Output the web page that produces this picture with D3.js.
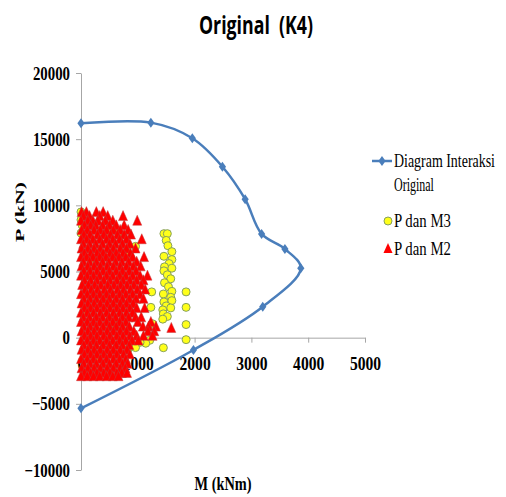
<!DOCTYPE html>
<html>
<head>
<meta charset="utf-8">
<script src="https://cdn.jsdelivr.net/npm/d3@7"></script>
<style>
body { margin: 0; background: #fff; }
</style>
</head>
<body>
<div id="chart"></div>
<script>
// interaction diagram (M, P)
var curveM = [0, 1230, 1960, 2490, 2890, 3180, 3590, 3870, 3200, 1980, 0];
var curveP = [16200, 16250, 15070, 12920, 10460, 7840, 6700, 5240, 2340, -930, -5340];

var xTicks = [0, 1000, 2000, 3000, 4000, 5000];
var yTicks = [-10000, -5000, 0, 5000, 10000, 15000, 20000];

// P dan M3 : [M, P]
var m3Points = [
    [200, 6000], [400, 3000], [600, 1000], [300, -1500], [700, 4500], [100, 2000], [500, 8000],
    [0, 9500], [40, 9250], [0, 8900], [20, 8500], [0, 7900], [660, 7940], [960, 6900], [820, 6500],
    [1245, 3460], [1230, 2290], [1260, 1050], [1210, -200], [1140, -420], [1040, -350], [960, -750],
    [830, -850], [1450, -760],
    [1460, 7860], [1520, 7860], [1500, 7350], [1530, 6950], [1600, 6500], [1460, 6150], [1600, 5900],
    [1550, 5600], [1470, 5350], [1600, 5250], [1460, 5050], [1520, 4750], [1580, 4450], [1470, 4150],
    [1540, 3850], [1600, 3500], [1450, 3300], [1580, 3050], [1460, 2700], [1600, 2800], [1500, 2400],
    [1440, 2100], [1580, 2250], [1450, 1800], [1520, 1600], [1440, 1400],
    [1850, 3460], [1850, 2290], [1850, 990], [1850, -150]
];

// P dan M2 : rows of [P, [M ...]]
var m2Rows = [
    [9450, [10, 95, 270, 390]],
    [9150, [40, 150, 330, 470, 740]],
    [8800, [0, 120, 210, 300, 430, 560, 990]],
    [8450, [60, 170, 260, 380, 500, 620, 760]],
    [8100, [10, 110, 230, 340, 450, 570, 690, 830]],
    [7750, [50, 160, 290, 400, 520, 640, 760, 880]],
    [7400, [0, 100, 210, 330, 450, 560, 680, 800, 1070]],
    [7050, [40, 150, 260, 380, 500, 610, 730, 860]],
    [6700, [10, 120, 230, 340, 460, 570, 690, 800, 960]],
    [6350, [60, 170, 280, 390, 510, 620, 740, 870]],
    [6050, [0, 100, 210, 330, 440, 560, 670, 790, 910, 1110]],
    [5700, [40, 150, 270, 380, 490, 610, 720, 840, 980]],
    [5350, [10, 120, 230, 340, 460, 570, 690, 800, 920, 1050]],
    [5000, [50, 160, 280, 390, 500, 620, 730, 850, 970]],
    [4650, [0, 110, 220, 330, 450, 560, 680, 790, 910, 1040, 1170]],
    [4300, [60, 170, 280, 400, 510, 630, 740, 860, 980, 1100]],
    [3950, [20, 130, 240, 350, 470, 580, 700, 810, 930, 1060]],
    [3600, [70, 180, 290, 410, 520, 640, 750, 870, 990, 1130]],
    [3250, [0, 110, 220, 330, 450, 560, 680, 790, 910, 1040]],
    [2900, [50, 160, 270, 390, 500, 620, 730, 850, 970, 1100]],
    [2550, [10, 120, 230, 340, 460, 570, 690, 800, 920]],
    [2200, [60, 170, 280, 400, 510, 630, 740, 860, 980, 1120]],
    [1850, [0, 110, 220, 340, 450, 570, 680, 800, 910]],
    [1500, [40, 150, 270, 380, 500, 610, 730, 840, 960, 1060]],
    [1150, [0, 110, 220, 330, 450, 560, 680, 790, 1000, 1230]],
    [800, [50, 160, 270, 390, 500, 620, 730, 850, 1090, 1190, 1320]],
    [700, [1590]],
    [450, [10, 120, 230, 340, 460, 570, 690, 800, 930, 1180, 1290]],
    [100, [60, 170, 280, 400, 510, 630, 740, 860, 980, 1100, 1260]],
    [-250, [0, 110, 220, 330, 450, 560, 680, 790, 900, 1010]],
    [-600, [50, 160, 270, 390, 500, 620, 730, 850]],
    [-950, [10, 120, 230, 340, 460, 570, 690, 810]],
    [-1300, [60, 170, 280, 400, 510, 630, 750, 860]],
    [-1650, [0, 110, 220, 340, 450, 570, 680, 790]],
    [-2000, [50, 160, 270, 390, 500, 620, 730, 820]],
    [-2350, [10, 120, 230, 340, 460, 570, 690, 780]],
    [-2700, [60, 170, 280, 400, 510, 630, 720, 810]],
    [-2950, [0, 110, 220, 330, 450, 560, 660]]
];

var serif = "'Liberation Serif', 'Times New Roman', serif";
var lineColor = "#4a7ebb";

var svg = d3.select("#chart")
            .append("svg")
            .attr("width", 506)
            .attr("height", 497);

var x = d3.scaleLinear().domain([0, 5000]).range([81, 365]);
var y = d3.scaleLinear().domain([-10000, 20000]).range([470, 73]);

// squeeze text horizontally like the picture
function squeeze(sel, k) {
    sel.each(function() {
        var w = this.getComputedTextLength();
        d3.select(this).attr("textLength", w * k).attr("lengthAdjust", "spacingAndGlyphs");
    });
}

// title
svg.append("text")
    .attr("x", 256)
    .attr("y", 34)
    .attr("text-anchor", "middle")
    .style("font-family", "'Open Sans', sans-serif")
    .style("font-weight", "bold")
    .style("font-size", "25px")
    .style("white-space", "pre")
    .attr("textLength", 114)
    .attr("lengthAdjust", "spacingAndGlyphs")
    .text("Original  (K4)");

// Y axis
var yAxis = svg.append("g")
    .attr("transform", "translate(81,0)")
    .call(d3.axisLeft(y).tickValues(yTicks).tickFormat(d3.format("d"))
        .tickSize(5).tickSizeOuter(0).tickPadding(6));
yAxis.select(".domain").attr("stroke", "#a6a6a6");
yAxis.selectAll(".tick line").attr("stroke", "#a6a6a6");
yAxis.selectAll("text")
    .style("font-family", serif)
    .style("font-weight", "bold")
    .style("font-size", "19px")
    .attr("fill", "#000")
    .call(squeeze, 0.78);

// X axis on P = 0
var xAxis = svg.append("g")
    .attr("transform", "translate(0," + y(0) + ")")
    .call(d3.axisBottom(x).tickValues(xTicks).tickFormat(d3.format("d"))
        .tickSize(5).tickSizeOuter(0).tickPadding(14));
xAxis.select(".domain").attr("stroke", "#a6a6a6");
xAxis.selectAll(".tick line").attr("stroke", "#a6a6a6");
xAxis.selectAll("text")
    .style("font-family", serif)
    .style("font-weight", "bold")
    .style("font-size", "19px")
    .attr("fill", "#000")
    .call(squeeze, 0.82);

// axis titles
svg.append("text")
    .attr("x", 223)
    .attr("y", 490)
    .attr("text-anchor", "middle")
    .style("font-family", serif)
    .style("font-weight", "bold")
    .style("font-size", "19px")
    .attr("textLength", 57)
    .attr("lengthAdjust", "spacingAndGlyphs")
    .text("M (kNm)");

svg.append("text")
    .attr("transform", "translate(24,212) rotate(-90)")
    .attr("text-anchor", "middle")
    .style("font-family", serif)
    .style("font-weight", "bold")
    .style("font-size", "13px")
    .attr("textLength", 60)
    .attr("lengthAdjust", "spacingAndGlyphs")
    .text("P (kN)");

// interaction curve
var curveData = curveM.map(function(m, i) { return {m: m, p: curveP[i]}; });

var line = d3.line()
    .x(function(d) { return x(d.m); })
    .y(function(d) { return y(d.p); })
    .curve(d3.curveCatmullRom.alpha(0.5));

svg.append("path")
    .datum(curveData)
    .attr("d", line)
    .attr("fill", "none")
    .attr("stroke", lineColor)
    .attr("stroke-width", 2.5);

var diamond = "M0,-5L3.6,0L0,5L-3.6,0Z";
var triangle = "M0,-6L4.5,4L-4.5,4Z";

svg.append("g").selectAll("path")
    .data(curveData)
    .enter()
    .append("path")
    .attr("d", diamond)
    .attr("transform", function(d) { return "translate(" + x(d.m) + "," + y(d.p) + ")"; })
    .attr("fill", lineColor);

// P dan M3
svg.append("g").selectAll("circle")
    .data(m3Points)
    .enter()
    .append("circle")
    .attr("cx", function(d) { return x(d[0]); })
    .attr("cy", function(d) { return y(d[1]); })
    .attr("r", 4)
    .attr("fill", "#ffff1a")
    .attr("stroke", "#86a05e")
    .attr("stroke-width", 1);

// P dan M2
var m2Points = [];
m2Rows.forEach(function(r) {
    r[1].forEach(function(m) { m2Points.push({m: m, p: r[0]}); });
});

svg.append("g").selectAll("path")
    .data(m2Points)
    .enter()
    .append("path")
    .attr("d", triangle)
    .attr("transform", function(d) { return "translate(" + x(d.m) + "," + y(d.p) + ")"; })
    .attr("fill", "#ff0000")
    .attr("stroke", "#c03a3a")
    .attr("stroke-width", 0.5);

// legend
var legend = svg.append("g");
legend.append("line")
    .attr("x1", 372).attr("x2", 392)
    .attr("y1", 161).attr("y2", 161)
    .attr("stroke", lineColor)
    .attr("stroke-width", 2.5);
legend.append("path")
    .attr("d", diamond)
    .attr("transform", "translate(382,161)")
    .attr("fill", lineColor);
legend.append("circle")
    .attr("cx", 388).attr("cy", 221).attr("r", 4)
    .attr("fill", "#ffff1a")
    .attr("stroke", "#86a05e");
legend.append("path")
    .attr("d", triangle)
    .attr("transform", "translate(388,249)")
    .attr("fill", "#ff0000");

var legendTexts = [
    {t: "Diagram Interaksi", y: 167, w: 101},
    {t: "Original", y: 191, w: 40},
    {t: "P dan M3", y: 227, w: 57},
    {t: "P dan M2", y: 255, w: 57}
];
legend.selectAll("text")
    .data(legendTexts)
    .enter()
    .append("text")
    .style("font-family", serif)
    .style("font-size", "19px")
    .text(function(d) { return d.t; })
    .attr("transform", function(d) {
        var k = d.w / this.getComputedTextLength();
        return "translate(394," + d.y + ") scale(" + k + ",1)";
    });
</script>
</body>
</html>
